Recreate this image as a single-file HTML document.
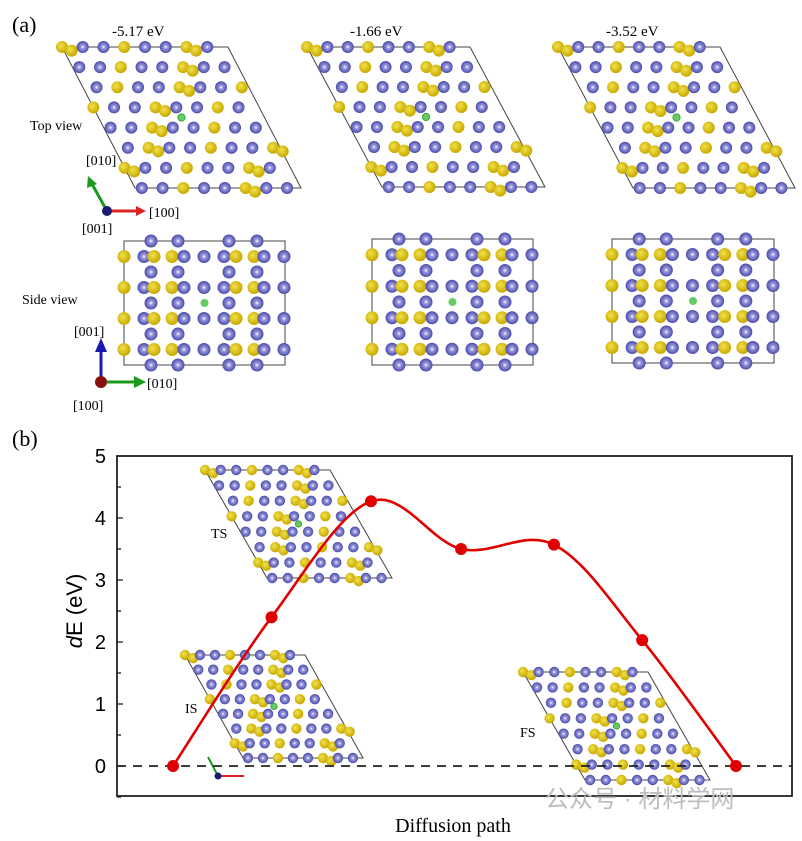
<!DOCTYPE html>
<html><head><meta charset="utf-8"><style>
body{margin:0;background:#fff;}
svg{display:block;font-family:"Liberation Serif",serif;}
</style></head><body>
<svg id="s" width="802" height="841" viewBox="0 0 802 841" xmlns="http://www.w3.org/2000/svg">
<defs>
<radialGradient id="gb" cx="0.5" cy="0.5" r="0.5"><stop offset="0" stop-color="#ffffff"/><stop offset="0.3" stop-color="#9a9ae0"/><stop offset="1" stop-color="#4a4aa8"/></radialGradient>
<radialGradient id="gy" cx="0.4" cy="0.4" r="0.6"><stop offset="0" stop-color="#f2e24a"/><stop offset="1" stop-color="#c8a800"/></radialGradient>
</defs>
<text x="12" y="32" font-size="22">(a)</text>
<text x="12" y="446" font-size="22">(b)</text>
<text x="112" y="36" font-size="15">-5.17 eV</text>
<text x="350" y="36" font-size="15">-1.66 eV</text>
<text x="606" y="36" font-size="15">-3.52 eV</text>
<text x="30" y="130" font-size="14">Top view</text>
<text x="22" y="304" font-size="14">Side view</text>
<g id="atoms"></g>
<g id="axes-a">
<line x1="107" y1="211" x2="92" y2="184" stroke="#1a9a1a" stroke-width="3"/><polygon points="88,176 87,188 97,184" fill="#1a9a1a"/>
<line x1="107" y1="211" x2="138" y2="211" stroke="#d22" stroke-width="3"/><polygon points="146,211 136,206 136,216" fill="#d22"/>
<circle cx="107" cy="211" r="5" fill="#1a1a70"/>
<text x="86" y="165" font-size="14">[010]</text>
<text x="149" y="217" font-size="14">[100]</text>
<text x="82" y="233" font-size="14">[001]</text>
<line x1="101" y1="382" x2="101" y2="350" stroke="#1a1ab0" stroke-width="3"/><polygon points="101,338 95,352 107,352" fill="#1a1ab0"/>
<line x1="101" y1="382" x2="136" y2="382" stroke="#1a9a1a" stroke-width="3"/><polygon points="146,382 134,376 134,388" fill="#1a9a1a"/>
<circle cx="101" cy="382" r="6" fill="#8a1010"/>
<text x="74" y="336" font-size="14">[001]</text>
<text x="147" y="388" font-size="14">[010]</text>
<text x="73" y="410" font-size="14">[100]</text>
</g>
<g id="chart"></g>
<text x="545" y="807" font-size="24" fill="#bdbdbd" font-family="'Liberation Sans','Noto Sans CJK SC',sans-serif">公众号 · 材料学网</text>
</svg>
<script>
const NS="http://www.w3.org/2000/svg";
const svg=document.getElementById('s');
function mk(tag,attrs,parent){const e=document.createElementNS(NS,tag);for(const k in attrs)e.setAttribute(k,attrs[k]);(parent||svg).appendChild(e);return e;}
const atomsG=document.getElementById('atoms');
function atom(g,x,y,c,r){mk('circle',{cx:x,cy:y,r:r||5.5,fill:c==='b'?'url(#gb)':'url(#gy)'},g);}
function topView(name,tl,w,skew,h,r){
  const g=mk('g',{},atomsG);
  
  
  mk('polygon',{points:`${tl[0]},${tl[1]} ${tl[0]+w},${tl[1]} ${tl[0]+w+skew},${tl[1]+h} ${tl[0]+skew},${tl[1]+h}`,fill:'none',stroke:'#444','stroke-width':1},g);
  const N=8;
  for(let j=0;j<N;j++){
    for(let i=0;i<N;i++){
      const u=(i+(j%3)*0.33)/N, v=j/(N-1);
      if(u>1)continue;
      const x=tl[0]+u*w+v*skew, y=tl[1]+v*h;
      const c=((i+j)%3===0)?'y':'b';
      atom(g,x,y,c,r);
      if(c==='y'&&(i+j)%6===0)atom(g,x+r*1.6,y+r*0.6,'y',r);
    }
  }
  const cx=tl[0]+w/2+skew/2, cy=tl[1]+h/2;
  mk('circle',{cx:cx,cy:cy,r:r*0.6,fill:'#6c6',stroke:'#3a3','stroke-width':1},g);
  return g;
}
function sideView(name,x0,y0,w,h){
  const g=mk('g',{},atomsG);
  
  
  mk('rect',{x:x0,y:y0,width:w,height:h,fill:'none',stroke:'#444','stroke-width':1},g);
  const mixed=[[0,'y'],[20,'b'],[30,'y'],[48,'y'],[60,'b'],[80,'b'],[100,'b'],[112,'y'],[130,'y'],[140,'b'],[160,'b']];
  const blue=[27,54,105,133];
  for(let k=0;k<9;k++){
    const y=y0+k*h/8;
    if(k%2===0){blue.forEach(bx=>atom(g,x0+bx*w/161,y,'b',6.5));}
    else{mixed.forEach(m=>atom(g,x0+m[0]*w/161,y,m[1],6.5));}
  }
  mk('circle',{cx:x0+w*0.5,cy:y0+h*0.5,r:4,fill:'#6c6'},g);
}
topView('top-view-1',[62,47],166,73,141,6);
topView('top-view-2',[307,47],163,75,140,6);
topView('top-view-3',[558,47],162,75,141,6);
sideView('side-view-1',124,241,161,124);
sideView('side-view-2',372,239,161,126);
sideView('side-view-3',612,239,162,124);
// chart data
const categories=['IS','P1','TS','P3','P4','P5','FS'];
const pathCoord=[0,1.05,2.11,3.07,4.06,5.0,6.0];
const energies=[0,2.4,4.27,3.5,3.57,2.03,0];
const yTicks=[0,1,2,3,4,5];
const chart=document.getElementById('chart');
const L=117,R=792,T=456,B=796;
function ys(v){return 766-(v-0)*(766-456)/5;}
function xs(c){return 173+c*(736-173)/6;}
topView('inset-ts',[205,470],125,62,108,5.2);
topView('inset-is',[185,655],120,58,103,5.2);
topView('inset-fs',[523,672],125,62,108,5.2);
const ins=[['TS',211,538],['IS',185,713],['FS',520,737]];
ins.forEach(t=>{const e=mk('text',{x:t[1],y:t[2],'font-size':14},chart);e.textContent=t[0];});
const ia=mk('g',{},chart);
mk('line',{x1:218,y1:776,x2:208,y2:757,stroke:'#1a9a1a','stroke-width':2},ia);
mk('line',{x1:218,y1:776,x2:244,y2:776,stroke:'#d22','stroke-width':2},ia);
mk('circle',{cx:218,cy:776,r:3.5,fill:'#1a1a70'},ia);
const frame=mk('rect',{x:L,y:T,width:R-L,height:B-T,fill:'none',stroke:'#222','stroke-width':1.8},chart);

const zl=mk('line',{x1:L,y1:ys(0),x2:R,y2:ys(0),stroke:'#222','stroke-width':1.8,'stroke-dasharray':'9,7'},chart);

for(let v=-0.5;v<=5.001;v+=0.5){
  const y=ys(v);const major=Math.abs(v-Math.round(v))<1e-6;
  mk('line',{x1:L,y1:y,x2:L+(major?6:4),y2:y,stroke:'#222','stroke-width':1.3},chart);
}
yTicks.forEach(v=>{const t=mk('text',{x:106,y:ys(v)+7,'font-size':20,'text-anchor':'end','font-family':"'Liberation Sans',sans-serif"},chart);t.textContent=v;});
const yl=mk('text',{x:0,y:0,'font-size':22,'text-anchor':'middle',transform:`translate(82,611) rotate(-90)`,'font-family':"'Liberation Sans',sans-serif"},chart);
yl.innerHTML='<tspan font-style="italic">d</tspan>E (eV)';

const xl=mk('text',{x:453,y:832,'font-size':20,'text-anchor':'middle'},chart);xl.textContent='Diffusion path';

const P=energies.map((v,i)=>[xs(pathCoord[i]),ys(v)]);
let d=`M${P[0][0]},${P[0][1]}`;
for(let i=0;i<P.length-1;i++){
  const p0=P[Math.max(0,i-1)],p1=P[i],p2=P[i+1],p3=P[Math.min(P.length-1,i+2)];
  const c1=[p1[0]+(p2[0]-p0[0])/6,p1[1]+(p2[1]-p0[1])/6];
  const c2=[p2[0]-(p3[0]-p1[0])/6,p2[1]-(p3[1]-p1[1])/6];
  d+=` C${c1[0]},${c1[1]} ${c2[0]},${c2[1]} ${p2[0]},${p2[1]}`;
}
const line=mk('path',{d:d,fill:'none',stroke:'#e00000','stroke-width':2.6},chart);

P.forEach((p,i)=>{const c=mk('circle',{cx:p[0],cy:p[1],r:6,fill:'#e00000'},chart);

});
</script>
</body></html>
